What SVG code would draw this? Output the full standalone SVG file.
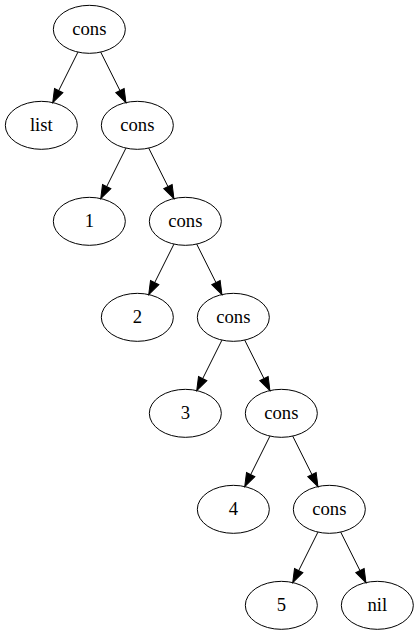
<svg xmlns="http://www.w3.org/2000/svg" width="419" height="635" viewBox="0 0 419 635">
  <style>
    .node ellipse { fill: none; stroke: #000; stroke-width: 1; }
    .node text { font-family: "Liberation Serif", "Times New Roman", serif; font-size: 18.67px; text-anchor: middle; fill: #000; }
    .edges path { fill: none; stroke: #000; stroke-width: 1; marker-end: url(#arrow); }
  </style>
  <defs>
    <marker id="arrow" markerUnits="userSpaceOnUse" markerWidth="14" markerHeight="10" refX="0" refY="4.67" orient="auto" viewBox="0 0 14 9.34" overflow="visible">
      <path d="M0,0 L13.33,4.67 L0,9.34 Z" fill="#000" stroke="#000" stroke-width="1"/>
    </marker>
  </defs>
  <rect width="419" height="635" fill="#fff"/>

  <g id="edges" class="edges">
    <path d="M77.93,52.13 L58.69,90.61"/>
    <path d="M100.73,52.13 L119.97,90.61"/>
    <path d="M125.93,148.13 L106.69,186.61"/>
    <path d="M148.73,148.13 L167.97,186.61"/>
    <path d="M173.93,244.13 L154.69,282.61"/>
    <path d="M196.73,244.13 L215.97,282.61"/>
    <path d="M221.93,340.13 L202.69,378.61"/>
    <path d="M244.73,340.13 L263.97,378.61"/>
    <path d="M269.93,436.13 L250.69,474.61"/>
    <path d="M292.73,436.13 L311.97,474.61"/>
    <path d="M317.93,532.13 L298.69,570.61"/>
    <path d="M340.73,532.13 L359.97,570.61"/>
  </g>

  <g id="cons0" class="node"><ellipse cx="89.33" cy="29.33" rx="36" ry="24"/><text x="89.33" y="35">cons</text></g>
  <g id="list" class="node"><ellipse cx="41.33" cy="125.33" rx="36" ry="24"/><text x="41.33" y="131">list</text></g>
  <g id="cons1" class="node"><ellipse cx="137.33" cy="125.33" rx="36" ry="24"/><text x="137.33" y="131">cons</text></g>
  <g id="n1" class="node"><ellipse cx="89.33" cy="221.33" rx="36" ry="24"/><text x="89.33" y="227">1</text></g>
  <g id="cons2" class="node"><ellipse cx="185.33" cy="221.33" rx="36" ry="24"/><text x="185.33" y="227">cons</text></g>
  <g id="n2" class="node"><ellipse cx="137.33" cy="317.33" rx="36" ry="24"/><text x="137.33" y="323">2</text></g>
  <g id="cons3" class="node"><ellipse cx="233.33" cy="317.33" rx="36" ry="24"/><text x="233.33" y="323">cons</text></g>
  <g id="n3" class="node"><ellipse cx="185.33" cy="413.33" rx="36" ry="24"/><text x="185.33" y="419">3</text></g>
  <g id="cons4" class="node"><ellipse cx="281.33" cy="413.33" rx="36" ry="24"/><text x="281.33" y="419">cons</text></g>
  <g id="n4" class="node"><ellipse cx="233.33" cy="509.33" rx="36" ry="24"/><text x="233.33" y="515">4</text></g>
  <g id="cons5" class="node"><ellipse cx="329.33" cy="509.33" rx="36" ry="24"/><text x="329.33" y="515">cons</text></g>
  <g id="n5" class="node"><ellipse cx="281.33" cy="605.33" rx="36" ry="24"/><text x="281.33" y="611">5</text></g>
  <g id="nil" class="node"><ellipse cx="377.33" cy="605.33" rx="36" ry="24"/><text x="377.33" y="611">nil</text></g>
</svg>
